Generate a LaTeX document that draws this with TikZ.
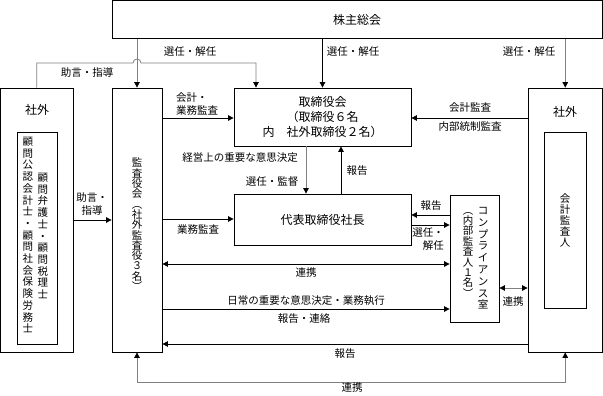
\documentclass[tikz,border=0pt]{standalone}
\usepackage{fontspec}
\setmainfont{Noto Sans CJK JP}
\usetikzlibrary{arrows.meta,calc}
\makeatletter
\newcommand\tatecol[2]{\vbox{\baselineskip=#1\lineskiplimit=-100pt\lineskip=0pt\@tfor\tate@c:=#2\do{\hbox to 1em{\hss\tate@c\hss}}}}
\makeatother
\newcommand\labfont{\fontsize{10.5}{12.5}\selectfont}
\newcommand\boxfont{\fontsize{12}{15}\selectfont}
\newcommand\tatefont{\fontsize{10.5}{12}\selectfont}
\begin{document}
\begin{tikzpicture}[x=1pt,y=-1pt,
  box/.style={draw, line width=0.8pt, inner sep=0pt, align=center},
  lab/.style={font=\labfont, inner sep=0pt},
  tate/.style={font=\tatefont, inner sep=0pt, anchor=north},
  ln/.style={line width=0.8pt},
  gl/.style={draw=black!50},
  >={Triangle[length=5.5pt,width=5.5pt,color=black]}]
\useasboundingbox (0,0) rectangle (603,396);
% boxes
\node[box, minimum width=490pt, minimum height=38pt, font=\boxfont] (soukai) at (357,19.5) {株主総会};
\node[box, minimum width=72.5pt, minimum height=264pt] (leftout) at (36.75,220) {};
\node[font=\boxfont, inner sep=0pt] (leftlab) at (37,110) {社外};
\node[box, minimum width=40pt, minimum height=212pt] (leftin) at (37,238) {};
\node[tate] (colA) at (28,137) {\tatecol{11.7pt}{顧問公認会計士・顧問社会保険労務士}};
\node[tate] (colB) at (43,173) {\tatecol{11.7pt}{顧問弁護士・顧問税理士}};
\node[box, minimum width=50pt, minimum height=264pt] (kansa) at (137,220) {};
\node[tate] (kansatxt) at (137,158) {\tatecol{10.3pt}{監査役会︵社外監査役３名︶}};
\node[box, minimum width=177pt, minimum height=58pt, font=\boxfont] (torishi) at (322.5,117) {取締役会\\（取締役６名\\内　社外取締役２名）};
\node[box, minimum width=177pt, minimum height=51pt, font=\boxfont] (daihyo) at (322.5,219.5) {代表取締役社長};
\node[box, minimum width=49pt, minimum height=127pt] (comp) at (474.5,258.5) {};
\node[tate] (compA) at (483,207) {\tatecol{11.8pt}{コンプライアンス室}};
\node[tate] (compB) at (468,212) {\tatecol{10.4pt}{︵内部監査人１名︶}};
\node[box, minimum width=74.5pt, minimum height=264pt] (rightout) at (565.25,220) {};
\node[font=\boxfont, inner sep=0pt] (rightlab) at (565,112) {社外};
\node[box, minimum width=42pt, minimum height=176pt] (rightin) at (565,220) {};
\node[tate] (rightintxt) at (565,193) {\tatecol{11pt}{会計監査人}};
% level coordinates
\coordinate (hopY) at (0,63);
\coordinate (y118) at (0,118);
\coordinate (y215) at (0,215);
\coordinate (y219) at (0,219);
\coordinate (y220) at (0,220);
\coordinate (y225) at (0,225);
\coordinate (y264) at (0,264);
\coordinate (y288) at (0,288);
\coordinate (y309) at (0,309);
\coordinate (y344) at (0,344);
\coordinate (y382) at (0,382);
\coordinate (x256) at (256,0);
\coordinate (x306) at (306,0);
\coordinate (x341) at (341,0);
% connectors
\draw[ln,gl,->] (soukai.south -| kansa.north) -- (kansa.north);
\draw[ln,->] (soukai.south -| torishi.north) -- (torishi.north);
\draw[ln,gl,->] (soukai.south -| rightout.north) -- (rightout.north);
\draw[ln,gl,->] (leftout.north) |- ($(kansa.north |- hopY)+(-4,0)$) arc[start angle=180,end angle=0,radius=4pt] -| (torishi.north -| x256);
\draw[ln,->] (kansa.east |- y118) -- (torishi.west |- y118);
\draw[ln,->] (rightout.west |- y118) -- (torishi.east |- y118);
\draw[ln,->] (leftout.east |- y220) -- (kansa.west |- y220);
\draw[ln,->] (kansa.east |- y219) -- (daihyo.west |- y219);
\draw[ln,gl,->] (torishi.south -| x306) -- (daihyo.north -| x306);
\draw[ln,->] (daihyo.north -| x341) -- (torishi.south -| x341);
\draw[ln,->] (comp.west |- y215) -- (daihyo.east |- y215);
\draw[ln,->] (daihyo.east |- y225) -- (comp.west |- y225);
\draw[ln,<->] (kansa.east |- y264) -- (comp.west |- y264);
\draw[ln,->] (kansa.east |- y309) -- (comp.west |- y309);
\draw[ln,->] (rightout.west |- y344) -- (kansa.east |- y344);
\draw[ln,gl,<->] (comp.east |- y288) -- (rightout.west |- y288);
\draw[ln,gl,<->] (kansa.south) -- (kansa.south |- y382) -| (rightout.south);
% labels
\node[lab] (l1) at (190,52) {選任・解任};
\node[lab] (l2) at (353,52) {選任・解任};
\node[lab] (l3) at (529,52) {選任・解任};
\node[lab] (l4) at (87,73) {助言・指導};
\node[lab,anchor=west,align=left] (l5) at (176,104) {会計・\\業務監査};
\node[lab,align=center] (l6) at (92,204) {助言・\\指導};
\node[lab] (l7) at (198,230) {業務監査};
\node[lab] (l8) at (240,158) {経営上の重要な意思決定};
\node[lab] (l9) at (272,182) {選任・監督};
\node[lab] (l10) at (357,171) {報告};
\node[lab] (l11) at (431,206) {報告};
\node[lab,anchor=east,align=right] (l12) at (444,239) {選任・\\解任};
\node[lab] (l13) at (470,108) {会計監査};
\node[lab] (l14) at (470,127) {内部統制監査};
\node[lab] (l15) at (306,273) {連携};
\node[lab] (l16) at (306,301) {日常の重要な意思決定・業務執行};
\node[lab] (l17) at (304,319) {報告・連絡};
\node[lab] (l18) at (345,354) {報告};
\node[lab] (l19) at (352,388) {連携};
\node[lab] (l20) at (513,302) {連携};
\end{tikzpicture}
\end{document}
